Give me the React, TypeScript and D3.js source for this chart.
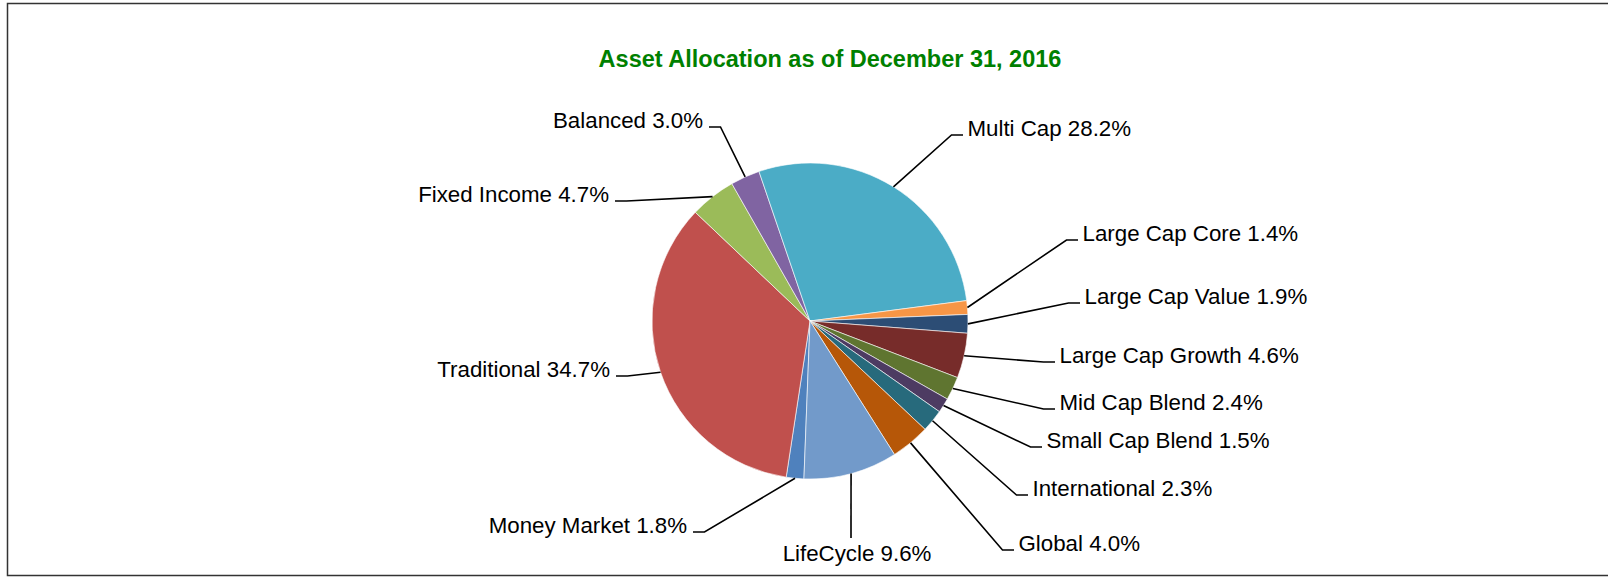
import * as d3 from "d3";

// fund categories, in the order the slices run (clockwise from the bottom)
const categories = [
  "Money Market",
  "Traditional",
  "Fixed Income",
  "Balanced",
  "Multi Cap",
  "Large Cap Core",
  "Large Cap Value",
  "Large Cap Growth",
  "Mid Cap Blend",
  "Small Cap Blend",
  "International",
  "Global",
  "LifeCycle",
];
const shares = [1.8, 34.7, 4.7, 3.0, 28.2, 1.4, 1.9, 4.6, 2.4, 1.5, 2.3, 4.0, 9.6];

const palette = [
  "#4F81BD", "#C0504D", "#9BBB59", "#8064A2", "#4BACC6", "#F79646", "#2C4D75",
  "#772C2A", "#5F7530", "#4D3B62", "#276A7C", "#B65708", "#729ACA",
];

// where each label's leader line ends (hand placed, like the original)
const labelSpots: { x: number; y: number; side: "left" | "right" | "bottom" }[] = [
  { x: 693, y: 532, side: "left" },
  { x: 616, y: 376, side: "left" },
  { x: 615, y: 201, side: "left" },
  { x: 709, y: 127, side: "left" },
  { x: 963, y: 135, side: "right" },
  { x: 1078, y: 240, side: "right" },
  { x: 1080, y: 303, side: "right" },
  { x: 1055, y: 362, side: "right" },
  { x: 1055, y: 409, side: "right" },
  { x: 1042, y: 447, side: "right" },
  { x: 1028, y: 495, side: "right" },
  { x: 1014, y: 550, side: "right" },
  { x: 851, y: 538, side: "bottom" },
];

const width = 1608;
const height = 577;
const cx = 810;
const cy = 321;
const radius = 158;
const startDeg = 182.2;

export default function App() {
  const pie = d3
    .pie<number>()
    .sort(null)
    .value((d) => d)
    .startAngle((startDeg * Math.PI) / 180)
    .endAngle((startDeg * Math.PI) / 180 + 2 * Math.PI);
  const arcs = pie(shares);
  const arc = d3.arc<d3.PieArcDatum<number>>().innerRadius(0).outerRadius(radius);
  const edge = d3.arc<d3.PieArcDatum<number>>().innerRadius(radius).outerRadius(radius);
  const line = d3.line();

  return (
    <svg
      width={width}
      height={height}
      style={{ position: "absolute", left: 0, top: 0, display: "block" }}
      fontFamily="'Liberation Sans', Arial, sans-serif"
    >
      <rect x={7.5} y={3.5} width={1700} height={572} fill="#fff" stroke="#333" strokeWidth={1.5} />
      <text x={830} y={66.5} textAnchor="middle" fontSize={23.5} fontWeight="bold" fill="#008000">
        Asset Allocation as of December 31, 2016
      </text>
      <g transform={`translate(${cx},${cy})`}>
        {arcs.map((a, i) => (
          <path key={i} d={arc(a) || ""} fill={palette[i]} stroke="#fff" strokeWidth={0.6} />
        ))}
      </g>
      <g fill="none" stroke="#000" strokeWidth={1.6}>
        {arcs.map((a, i) => {
          const [px, py] = edge.centroid(a);
          const s = labelSpots[i];
          const pts: [number, number][] =
            s.side === "bottom"
              ? [[cx + px, cy + py], [s.x, s.y]]
              : [[cx + px, cy + py], [s.side === "left" ? s.x + 11.5 : s.x - 11.5, s.y], [s.x, s.y]];
          return <path key={i} d={line(pts) || ""} />;
        })}
      </g>
      <g fontSize={22.3} fill="#000">
        {arcs.map((a, i) => {
          const s = labelSpots[i];
          const txt = `${categories[i]} ${d3.format(".1f")(shares[i])}%`;
          if (s.side === "bottom")
            return (
              <text key={i} x={s.x + 6} y={s.y + 22.5} textAnchor="middle">
                {txt}
              </text>
            );
          return (
            <text
              key={i}
              x={s.side === "left" ? s.x - 6 : s.x + 4.5}
              y={s.y + 0.5}
              textAnchor={s.side === "left" ? "end" : "start"}
            >
              {txt}
            </text>
          );
        })}
      </g>
    </svg>
  );
}
